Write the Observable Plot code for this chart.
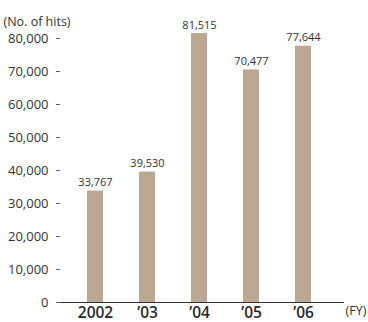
<!DOCTYPE html>
<html>
<head>
<meta charset="utf-8">
<script src="https://cdn.jsdelivr.net/npm/d3@7"></script>
<script src="https://cdn.jsdelivr.net/npm/@observablehq/plot@0.6"></script>
<style>
  html, body { margin: 0; padding: 0; background: #fff; }
  svg { display: block; }
</style>
</head>
<body>
<div id="chart"></div>
<script>
const years = ["2002", "’03", "’04", "’05", "’06"];
const hits = [33767, 39530, 81515, 70477, 77644];
const yTicks = [0, 10000, 20000, 30000, 40000, 50000, 60000, 70000, 80000];
const yUnit = "(No. of hits)";
const xUnit = "(FY)";

const data = years.map((y, i) => ({year: y, hits: hits[i]}));
const fmt = d3.format(",");
const font = "'Open Sans', 'Noto Sans', sans-serif";

const chart = Plot.plot({
  width: 368,
  height: 322,
  marginLeft: 60,
  marginRight: 24,
  marginTop: 38,
  marginBottom: 20,
  style: {fontFamily: font, color: "#333", background: "#fff"},
  x: {domain: years, paddingInner: 0.695, paddingOuter: 0.552, align: 0.448, label: null},
  y: {domain: [0, 80000], label: null},
  marks: [
    Plot.axisY({ticks: yTicks, tickFormat: fmt, tickSize: 4, tickPadding: 8, fontSize: 13, stroke: "#666", fill: "#333", label: null}),
    Plot.axisX({tickSize: 0, tickPadding: 4, fontSize: 15.5, fontWeight: 600, fill: "#2a2a2a", label: null}),
    Plot.barY(data, {x: "year", y: "hits", fill: "#bca793"}),
    Plot.ruleY([0], {stroke: "#333", strokeWidth: 1.2}),
    Plot.text(data, {x: "year", y: "hits", text: d => fmt(d.hits), dy: -5, lineAnchor: "bottom", fontSize: 11, fill: "#333"}),
    Plot.text([yUnit], {frameAnchor: "top-left", text: d => d, dx: -57, dy: -21, textAnchor: "start", fontSize: 12.5, fill: "#333"}),
    Plot.text([xUnit], {frameAnchor: "bottom-right", text: d => d, dx: 1, dy: 12, textAnchor: "start", fontSize: 12.5, fill: "#333"})
  ]
});
document.getElementById("chart").appendChild(chart);
</script>
</body>
</html>
